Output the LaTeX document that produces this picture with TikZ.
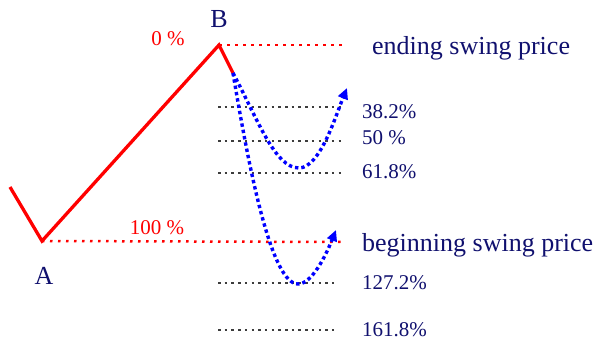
\documentclass[tikz,border=0pt]{standalone}
\usepackage{fontspec}
\setmainfont{Liberation Serif}
\usetikzlibrary{arrows.meta}
\definecolor{labelnavy}{RGB}{16,16,110}
\definecolor{levelgray}{RGB}{60,60,60}

\begin{document}
\begin{tikzpicture}[x=1pt,y=-1pt,
  swing/.style={red,line width=3.3pt,line join=miter},
  redlevel/.style={red,line width=2.5pt,dash pattern=on 2.5pt off 5.5pt},
  graylevel/.style={levelgray,line width=2.5pt,dash pattern=on 2.5pt off 4.2pt},
  retrace/.style={blue,line width=3.4pt,dash pattern=on 3.4pt off 3pt,-{Triangle[length=11pt,width=10pt]}},
  pct/.style={labelnavy,font=\fontsize{21}{24}\selectfont,anchor=west,inner sep=0pt},
  big/.style={labelnavy,font=\fontsize{26}{30}\selectfont,inner sep=0pt}]
  \useasboundingbox (0,0) rectangle (602,343);
  \coordinate (S) at (10,187);
  \coordinate (A) at (42,241);
  \coordinate (B) at (219,45);
  \coordinate (C) at (233,73);
  \draw[swing] (S) -- (A) -- (B) -- (C);
  \node[big] (la) at (44,276) {A};
  \node[big] (lb) at (219,19) {B};
  % levels
  \draw[redlevel] (B) -- (345,45);
  \draw[redlevel] (A) -- (342,242);
  \node[red,font=\fontsize{21}{24}\selectfont,inner sep=0pt] (p0) at (168,39) {0 \%};
  \node[red,font=\fontsize{21}{24}\selectfont,inner sep=0pt] (p100) at (157,228) {100 \%};
  \draw[graylevel] (218,107) -- (342,107);
  \draw[graylevel] (218,141) -- (342,141);
  \draw[graylevel] (218,173) -- (342,173);
  \draw[graylevel] (218,283) -- (338,283);
  \draw[graylevel] (218,330) -- (338,330);
  \node[big,anchor=west] (endp) at (372,48) {ending swing price};
  \node[big,anchor=west] (begp) at (362,245) {beginning swing price};
  \node[pct] (f382) at (362,112) {38.2\%};
  \node[pct] (f50) at (362,138) {50 \%};
  \node[pct] (f618) at (362,172) {61.8\%};
  \node[pct] (f1272) at (362,283) {127.2\%};
  \node[pct] (f1618) at (362,330) {161.8\%};
  % retracements
  \draw[retrace] (C) .. controls (258,120) and (275,168) .. (299,168)
    .. controls (320,168) and (336,115) .. (347,88);
  \draw[retrace] (C) .. controls (250,175) and (272,284) .. (298,284)
    .. controls (312,284) and (326,255) .. (336,230);
\end{tikzpicture}
\end{document}
